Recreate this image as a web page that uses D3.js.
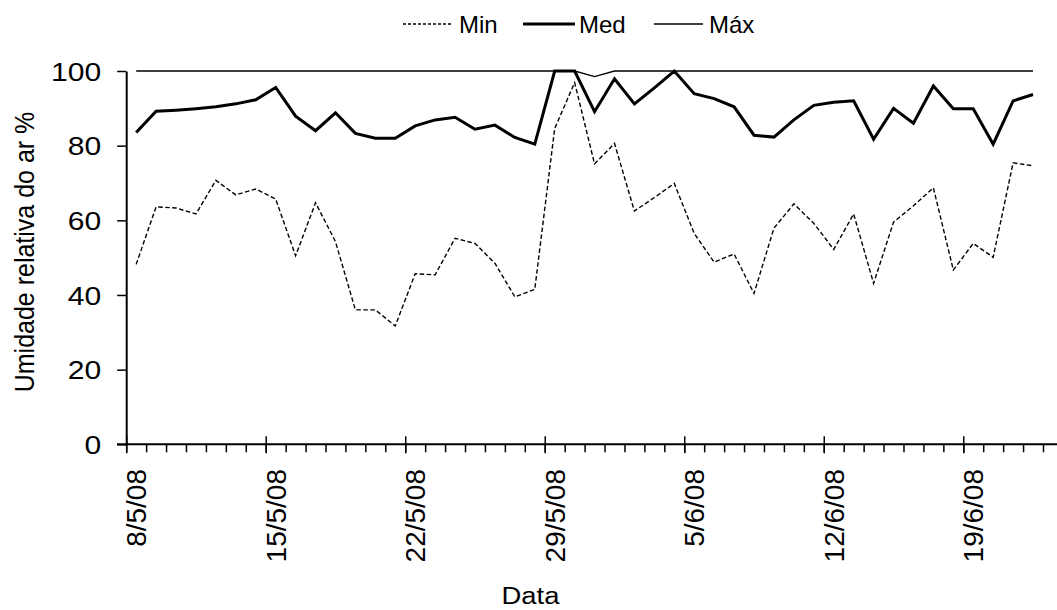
<!DOCTYPE html>
<html><head><meta charset="utf-8">
<script src="https://cdn.jsdelivr.net/npm/d3@7/dist/d3.min.js"></script>
<style>
html,body{margin:0;padding:0;background:#fff;}
text{font-family:"Liberation Sans",Arial,sans-serif;fill:#000;}
</style></head>
<body><svg id="c" width="1057" height="610"></svg>
<script>
const startDate = "2008-05-08";
const nDays = 46;
const minVals = [48.2,63.6,63.3,61.7,70.7,66.8,68.4,65.7,50.5,64.7,54.3,36.0,36.0,31.7,45.7,45.4,55.2,53.8,48.5,39.5,41.5,84.6,96.9,75.1,80.6,62.5,66.1,69.9,56.5,48.8,51.0,40.4,57.9,64.4,59.2,52.2,61.7,43.1,59.5,63.9,68.7,46.7,53.8,50.1,75.4,74.6];
const medVals = [83.5,89.2,89.5,89.9,90.4,91.2,92.3,95.6,87.9,84.0,88.8,83.3,82.0,82.0,85.3,86.9,87.6,84.4,85.5,82.2,80.4,100,100,89.1,97.9,91.2,95.5,100,93.9,92.6,90.4,82.8,82.3,86.9,90.8,91.6,92.0,81.7,90.0,86.0,96.0,89.9,89.9,80.4,92.0,93.7];
const maxVals = [100,100,100,100,100,100,100,100,100,100,100,100,100,100,100,100,100,100,100,100,100,100,100,98.5,100,100,100,100,100,100,100,100,100,100,100,100,100,100,100,100,100,100,100,100,100,100];
const xTickLabels = ["8/5/08","15/5/08","22/5/08","29/5/08","5/6/08","12/6/08","19/6/08"];
const yTicks = [0,20,40,60,80,100];
const seriesNames = ["Min","Med","Máx"];

const svg = d3.select("#c");
const parse = d3.timeParse("%Y-%m-%d");
const d0 = parse(startDate);
const dates = d3.range(nDays).map(i => d3.timeDay.offset(d0, i));
const dEnd = d3.timeDay.offset(d0, nDays);

const x = d3.scaleTime().domain([d0, dEnd]).range([126.2, 1043]);
const y = d3.scaleLinear().domain([0, 100]).range([444.3, 71]);
const mid = d => d3.timeHour.offset(d, 12);

// y axis
const yAxis = d3.axisLeft(y).tickValues(yTicks).tickSize(9).tickSizeOuter(0).tickFormat(d3.format("d"));
const gy = svg.append("g").attr("transform", "translate(126.2,0)").call(yAxis);
gy.select(".domain").attr("stroke", "#000").attr("stroke-width", 2);
gy.selectAll(".tick line").attr("stroke", "#000").attr("stroke-width", 1.5);
const ySx = 1.18;
gy.selectAll(".tick text").attr("x", -25 / ySx).attr("dy", null).attr("y", 9.2)
  .attr("transform", `scale(${ySx},1)`)
  .style("font-size", "25.5px").attr("text-anchor", "end");

// x axis: minor day ticks
const gxMinor = svg.append("g").attr("transform", "translate(0,444.3)")
  .call(d3.axisBottom(x).tickValues(dates.concat([dEnd])).tickSize(8).tickSizeOuter(0).tickFormat(""));
gxMinor.select(".domain").remove();
gxMinor.selectAll(".tick line").attr("stroke", "#000").attr("stroke-width", 1.5);
// axis baseline extends to edge
svg.append("line").attr("x1", 117).attr("x2", 1057).attr("y1", 444.3).attr("y2", 444.3)
  .attr("stroke", "#000").attr("stroke-width", 2);
// major weekly ticks
const majorDates = d3.range(0, nDays, 7).map(i => dates[i]);
const gxMajor = svg.append("g").attr("transform", "translate(0,444.3)")
  .call(d3.axisBottom(x).tickValues(majorDates).tickSize(9).tickSizeOuter(0).tickFormat(""));
gxMajor.select(".domain").remove();
gxMajor.selectAll(".tick line").attr("y1", -8).attr("stroke", "#000").attr("stroke-width", 1.5);
// x labels at day centers
const fsX = 28;
svg.append("g").selectAll("text").data(majorDates).join("text")
  .attr("transform", (d, i) => `translate(${x(mid(d)) + fsX * 0.716 / 2},469) rotate(-90)`)
  .attr("text-anchor", "end").style("font-size", fsX + "px")
  .text((d, i) => xTickLabels[i]);

// lines
const line = d3.line().x((v, i) => x(mid(dates[i]))).y(v => y(v));
svg.append("path").datum(maxVals).attr("d", line).attr("fill", "none")
  .attr("stroke", "#000").attr("stroke-width", 1.3);
svg.append("path").datum(minVals).attr("d", line).attr("fill", "none")
  .attr("stroke", "#000").attr("stroke-width", 1.4).attr("stroke-dasharray", "4.5,2.5");
svg.append("path").datum(medVals).attr("d", line).attr("fill", "none")
  .attr("stroke", "#000").attr("stroke-width", 3).attr("stroke-linejoin", "miter");

// axis titles
svg.append("text").attr("transform", "translate(33.5,252) rotate(-90) scale(1,1.1)")
  .attr("text-anchor", "middle").style("font-size", "25px").text("Umidade relativa do ar %");
svg.append("text").attr("transform", "translate(530.5,604) scale(1.12,1)").attr("text-anchor", "middle")
  .style("font-size", "24.5px").text("Data");

// legend
const leg = [
  {x1: 403, x2: 452, tx: 459, w: 1.3, dash: "3,2"},
  {x1: 523, x2: 575, tx: 579, w: 3, dash: null},
  {x1: 654, x2: 703, tx: 709, w: 1.3, dash: null}
];
leg.forEach((l, i) => {
  svg.append("line").attr("x1", l.x1).attr("x2", l.x2).attr("y1", 24).attr("y2", 24)
    .attr("stroke", "#000").attr("stroke-width", l.w).attr("stroke-dasharray", l.dash);
  svg.append("text").attr("x", l.tx).attr("y", 33).style("font-size", "24px").text(seriesNames[i]);
});
</script></body></html>
